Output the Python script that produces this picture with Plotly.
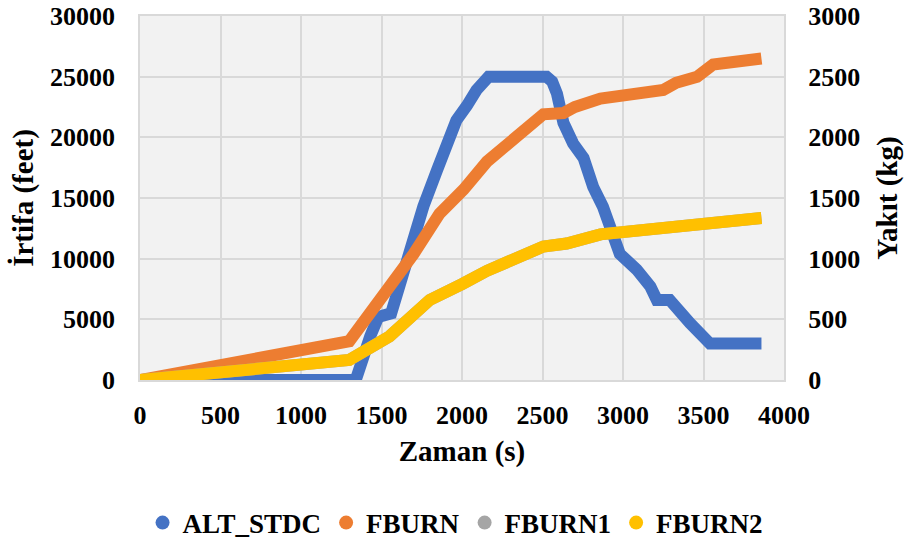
import plotly.graph_objects as go

# ALT_STDC (left axis, feet)
alt_t = [0, 1340, 1430, 1480, 1560, 1680, 1760, 1845, 1965, 2030, 2090, 2165, 2525, 2560, 2590,
         2630, 2690, 2755, 2815, 2875, 2920, 2980, 3085, 3170, 3210, 3290, 3415, 3540, 3860]
alt_v = [0, 0, 3600, 5200, 5500, 11000, 14300, 17300, 21400, 22600, 23900, 25000, 25000, 24600, 23600,
         21200, 19500, 18300, 15900, 14300, 12600, 10400, 9100, 7700, 6600, 6600, 4700, 3000, 3000]

# FBURN (right axis, kg)
fb_t = [0, 1300, 1550, 1700, 1860, 2010, 2155, 2300, 2505, 2630, 2700, 2860, 3000, 3250, 3330, 3460, 3560, 3860]
fb_v = [0, 320, 770, 1040, 1370, 1570, 1800, 1960, 2190, 2200, 2250, 2320, 2340, 2390, 2450, 2500, 2600, 2650]

# FBURN1 (hidden under FBURN2)
fb1_t = [0, 1300, 1550, 1800, 2000, 2155, 2505, 2650, 2860, 3250, 3540, 3860]
fb1_v = [0, 165, 360, 660, 790, 900, 1100, 1125, 1200, 1260, 1310, 1335]

# FBURN2
fb2_t = [0, 1300, 1550, 1800, 2000, 2155, 2505, 2650, 2860, 3250, 3540, 3860]
fb2_v = [0, 165, 360, 660, 790, 900, 1100, 1125, 1200, 1260, 1310, 1335]

names = ["ALT_STDC", "FBURN", "FBURN1", "FBURN2"]
colors = ["#4472C4", "#ED7D31", "#A5A5A5", "#FFC000"]

FONT = "Liberation Serif, Times New Roman, serif"
LW = 12

fig = go.Figure()
fig.add_trace(go.Scatter(x=alt_t, y=alt_v, mode="lines", line=dict(color=colors[0], width=LW),
                         showlegend=False, yaxis="y"))
for t, v, c in [(fb_t, fb_v, colors[1]), (fb1_t, fb1_v, colors[2]), (fb2_t, fb2_v, colors[3])]:
    fig.add_trace(go.Scatter(x=t, y=v, mode="lines", line=dict(color=c, width=LW),
                             showlegend=False, yaxis="y2"))

# legend entries (circle markers)
for n, c in zip(names, colors):
    fig.add_trace(go.Scatter(x=[None], y=[None], mode="markers", name=n,
                             marker=dict(color=c, size=14, symbol="circle")))

grid = "#D9D9D9"
tickfont = dict(family=FONT, size=26, color="black", weight="bold")
titlefont = dict(family=FONT, size=29, color="black", weight="bold")

fig.update_layout(
    width=909, height=545,
    margin=dict(l=140, r=125, t=16, b=165, autoexpand=False),
    paper_bgcolor="white", plot_bgcolor="#F2F2F2",
    font=dict(family=FONT, color="black"),
    xaxis=dict(range=[0, 4000], dtick=500, tick0=0, showgrid=True, gridcolor=grid, gridwidth=1.5,
               zeroline=False, showline=True, linecolor=grid, linewidth=1.5, mirror=True,
               ticks="outside", ticklen=11, tickcolor="rgba(0,0,0,0)", tickfont=tickfont,
               tickformat="d",
               title=dict(text="Zaman (s)", font=titlefont, standoff=12)),
    yaxis=dict(range=[0, 30000], dtick=5000, showgrid=True, gridcolor=grid, gridwidth=1.5,
               zeroline=False, showline=True, linecolor=grid, linewidth=1.5, mirror=True,
               ticks="outside", ticklen=18, tickcolor="rgba(0,0,0,0)", tickfont=tickfont,
               tickformat="d",
               title=dict(text="İrtifa (feet)", font=titlefont, standoff=8)),
    yaxis2=dict(range=[0, 3000], dtick=500, overlaying="y", side="right", showgrid=False,
                zeroline=False, ticks="outside", ticklen=18, tickcolor="rgba(0,0,0,0)",
                tickfont=tickfont, tickformat="d",
                title=dict(text="Yakıt (kg)", font=titlefont, standoff=17)),
    legend=dict(orientation="h", x=0.49, xanchor="center", y=-0.393, yanchor="middle",
                font=dict(family=FONT, size=27, color="black", weight="bold"),
                itemsizing="trace", bgcolor="rgba(0,0,0,0)"),
)

fig.write_html("out.html")
